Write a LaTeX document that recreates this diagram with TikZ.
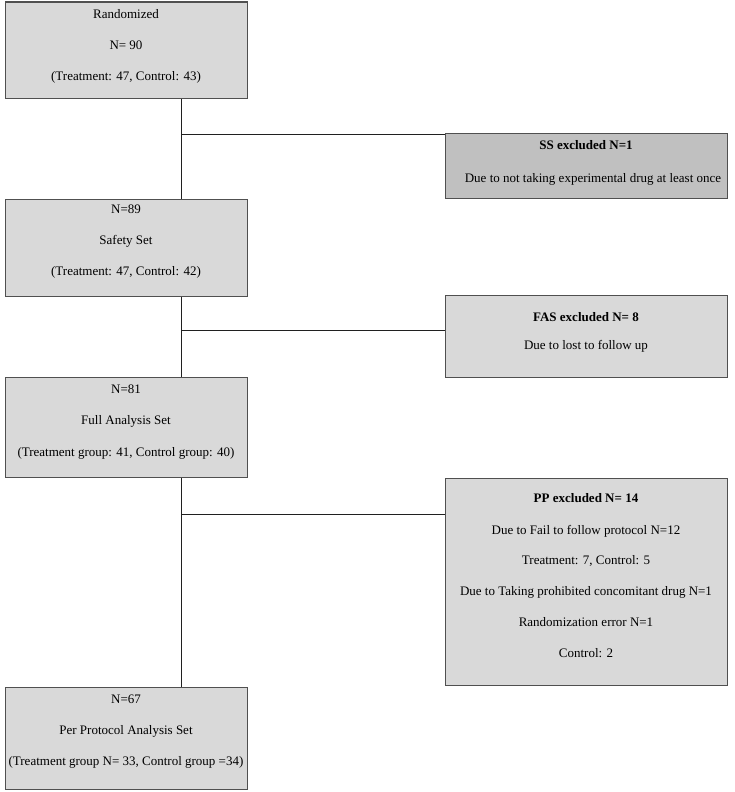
\documentclass[tikz,border=0pt]{standalone}
\usepackage{fontspec}
\setmainfont{Liberation Serif}
\definecolor{boxfill}{HTML}{D9D9D9}
\definecolor{darkfill}{HTML}{C0C0C0}
\definecolor{edge}{HTML}{505050}
\definecolor{wire}{HTML}{202020}
\begin{document}
\begin{tikzpicture}[x=1pt,y=-1pt,
  boxshape/.style={draw=edge,line width=1.1pt,fill=boxfill,inner sep=0pt},
  darkbox/.style={boxshape,fill=darkfill},
  txt/.style={anchor=base,inner sep=0pt,font=\fontsize{13}{15}\selectfont},
  btxt/.style={txt,font=\fontsize{13}{15}\selectfont\bfseries},
  wireline/.style={draw=wire,line width=0.8pt}]
\useasboundingbox (0,0) rectangle (734,792);
% boxes
\node[boxshape,minimum width=242pt,minimum height=96.5pt,anchor=north west] (b1) at (4.5,1.5) {};
\node[darkbox,minimum width=282pt,minimum height=65pt,anchor=north west] (ss) at (445,133) {};
\node[boxshape,minimum width=242pt,minimum height=97pt,anchor=north west] (b2) at (4.5,199) {};
\node[boxshape,minimum width=282pt,minimum height=82pt,anchor=north west] (fas) at (445,295) {};
\node[boxshape,minimum width=242pt,minimum height=100pt,anchor=north west] (b3) at (4.5,377) {};
\node[boxshape,minimum width=282pt,minimum height=207pt,anchor=north west] (pp) at (445,478) {};
\node[boxshape,minimum width=242pt,minimum height=102pt,anchor=north west] (b4) at (4.5,687) {};
% texts
\node[txt] (b1a) at (126,18.5) {Randomized};
\node[txt] (b1b) at (126,49.5) {N= 90};
\node[txt] (b1c) at (126,80.5) {(Treatment: 47, Control: 43)};
\node[btxt] (ssa) at (586,149.5) {SS excluded N=1};
\node[txt] (ssb) at (593,182) {Due to not taking experimental drug at least once};
\node[txt] (b2a) at (126,213) {N=89};
\node[txt] (b2b) at (126,244.5) {Safety Set};
\node[txt] (b2c) at (126,275.5) {(Treatment: 47, Control: 42)};
\node[btxt] (fasa) at (586,321.5) {FAS excluded N= 8};
\node[txt] (fasb) at (586,349.5) {Due to lost to follow up};
\node[txt] (b3a) at (126,393.5) {N=81};
\node[txt] (b3b) at (126,424.5) {Full Analysis Set};
\node[txt] (b3c) at (126,456) {(Treatment group: 41, Control group: 40)};
\node[btxt] (ppa) at (586,502.5) {PP excluded N= 14};
\node[txt] (ppb) at (586,534) {Due to Fail to follow protocol N=12};
\node[txt] (ppc) at (586,564) {Treatment: 7, Control: 5};
\node[txt] (ppd) at (586,595) {Due to Taking prohibited concomitant drug N=1};
\node[txt] (ppe) at (586,626) {Randomization error N=1};
\node[txt] (ppf) at (586,657) {Control: 2};
\node[txt] (b4a) at (126,703.5) {N=67};
\node[txt] (b4b) at (126,734.5) {Per Protocol Analysis Set};
\node[txt] (b4c) at (126,765) {(Treatment group N= 33, Control group =34)};
% connectors
\coordinate (j1) at (181.5,134);
\coordinate (j2) at (181.5,330);
\coordinate (j3) at (181.5,514);
\draw[wireline] (b1.south -| j1) -- (b2.north -| j1);
\draw[wireline] (j1) -- (j1 -| ss.west);
\draw[wireline] (b2.south -| j2) -- (b3.north -| j2);
\draw[wireline] (j2) -- (j2 -| fas.west);
\draw[wireline] (b3.south -| j3) -- (b4.north -| j3);
\draw[wireline] (j3) -- (j3 -| pp.west);
\end{tikzpicture}
\end{document}
